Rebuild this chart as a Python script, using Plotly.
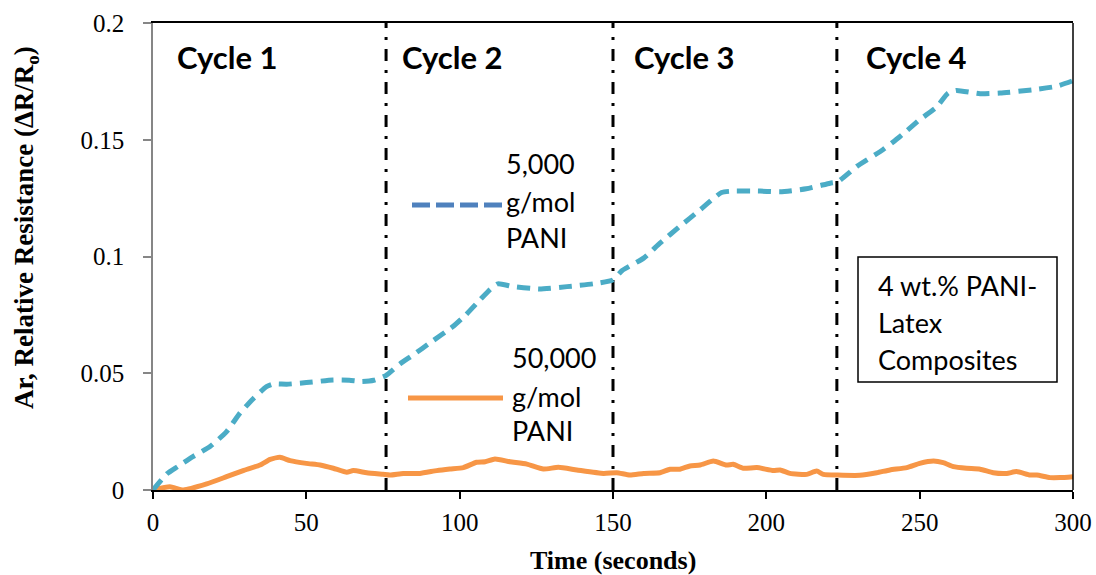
import plotly.graph_objects as go

# Time (s) and relative resistance for the two PANI molecular weights
time_5k = [0, 4.5, 8, 13, 18.6, 24, 28.4, 32.6, 37, 39.2,
           43.6, 50, 58.7, 64, 68, 72, 75.9, 80.5, 85, 90.3,
           97.8, 102, 106.6, 110, 112.5, 117.4, 126, 135, 143.6, 150,
           153, 160, 165.3, 171.8, 178.4, 185.4, 189, 198, 204.5, 213,
           220.8, 223.3, 229.5, 238, 243.6, 250, 255.5, 259.3, 262, 269.7,
           276.2, 287, 294.7, 300]
resist_5k = [0, 0.0069, 0.010, 0.0143, 0.0186, 0.025, 0.033, 0.039, 0.0443, 0.0454,
             0.0453, 0.046, 0.0471, 0.047, 0.0465, 0.047, 0.049, 0.054, 0.058, 0.063,
             0.070, 0.075, 0.0814, 0.086, 0.0883, 0.0871, 0.0861, 0.0871, 0.0883, 0.090,
             0.094, 0.0993, 0.1057, 0.1129, 0.120, 0.1274, 0.128, 0.128, 0.1277, 0.129,
             0.1314, 0.132, 0.1386, 0.1457, 0.1514, 0.1586, 0.164, 0.170, 0.1711, 0.1697,
             0.170, 0.1714, 0.1729, 0.1753]

time_50k = [0, 5.5, 9.9, 17.5, 24, 29.4, 34.9, 38.2, 41.4, 44.7,
            50, 54.5, 58.8, 63.2, 65.3, 69.7, 75, 77.3, 81.6, 87,
            92.5, 96.8, 101.2, 105.5, 108.3, 111.5, 116.4, 121.9, 127.3, 132.2,
            138.2, 146.9, 151.2, 155.5, 160, 165.3, 168.6, 171.8, 175.1, 178.4,
            182.7, 187, 189.2, 192.5, 196.9, 202.3, 204.5, 207.7, 213.2, 216.4,
            218.6, 223.3, 230.5, 236, 240.3, 245.8, 250, 254.5, 257.7, 261,
            265.3, 269.7, 274, 278.4, 281.6, 286, 288.2, 292.5, 295.8, 300]
resist_50k = [0, 0.0014, 0.0, 0.0026, 0.0057, 0.0083, 0.0107, 0.0131, 0.014, 0.0126,
              0.0114, 0.0107, 0.0093, 0.0076, 0.0083, 0.0074, 0.0067, 0.0064, 0.0071, 0.0071,
              0.0083, 0.009, 0.0096, 0.0119, 0.0121, 0.0133, 0.0121, 0.0111, 0.009, 0.0097,
              0.0086, 0.0071, 0.0074, 0.0064, 0.0071, 0.0074, 0.0089, 0.0089, 0.0103, 0.0107,
              0.0124, 0.0107, 0.011, 0.0093, 0.0096, 0.0083, 0.0086, 0.0071, 0.0067, 0.0081,
              0.0067, 0.0064, 0.0063, 0.0074, 0.0086, 0.0096, 0.0114, 0.0124, 0.0117, 0.01,
              0.0093, 0.0089, 0.0074, 0.0071, 0.0079, 0.0064, 0.0064, 0.0053, 0.0053, 0.0057]

cycle_bounds = [76, 150, 223]
cycle_labels = ["Cycle 1", "Cycle 2", "Cycle 3", "Cycle 4"]
x_ticks = [0, 50, 100, 150, 200, 250, 300]
y_ticks = [0, 0.05, 0.1, 0.15, 0.2]
y_tick_text = ["0", "0.05", "0.1", "0.15", "0.2"]

CYAN = "#4BACC6"
ORANGE = "#F79646"
KEY_BLUE = "#4F81BD"
SANS = "Lato"
SERIF = "Liberation Serif"

# Plot frame in pixels: x 153..1073, y 490 (bottom) .. 23 (top)
L, R, T, B = 153, 1073, 23, 490


def px(xp):
    return (xp - L) / float(R - L)


def py(yp):
    return (B - yp) / float(B - T)


fig = go.Figure()
fig.add_trace(go.Scatter(x=time_50k, y=resist_50k, mode="lines",
                         line=dict(color=ORANGE, width=5, shape="spline", smoothing=0.5),
                         showlegend=False))
fig.add_trace(go.Scatter(x=time_5k, y=resist_5k, mode="lines",
                         line=dict(color=CYAN, width=5, dash="13px,8px",
                                   shape="spline", smoothing=0.5),
                         showlegend=False))

# Cycle boundaries
for xb in cycle_bounds:
    fig.add_shape(type="line", xref="x", yref="paper", x0=xb, x1=xb, y0=0, y1=1,
                  line=dict(color="black", width=3, dash="12px,9px,3px,9px"), layer="below")

# Key line samples
fig.add_shape(type="line", xref="paper", yref="paper", x0=px(412), x1=px(502),
              y0=py(205), y1=py(205), line=dict(color=KEY_BLUE, width=5, dash="18px,6px"))
fig.add_shape(type="line", xref="paper", yref="paper", x0=px(408), x1=px(503),
              y0=py(398), y1=py(398), line=dict(color=ORANGE, width=5))
# Note box
fig.add_shape(type="rect", xref="paper", yref="paper", x0=px(858), x1=px(1057),
              y0=py(382), y1=py(257), line=dict(color="black", width=1.5))
# Right frame edge
fig.add_shape(type="line", xref="paper", yref="paper", x0=1, x1=1, y0=0, y1=1,
              line=dict(color="black", width=1.5))

for label, xl in zip(cycle_labels, [175, 400, 632, 864]):
    fig.add_annotation(text="<b>%s</b>" % label, x=px(xl), y=py(57),
                       xref="paper", yref="paper", xanchor="left", yanchor="middle",
                       showarrow=False, font=dict(family=SANS, size=31, color="black"))

# Key texts beside each line sample, and the note box text
for lines, xl, ys in [(["5,000", "g/mol", "PANI"], 504, [163, 201, 237]),
                      (["50,000", "g/mol", "PANI"], 510, [357, 396, 430]),
                      (["4 wt.% PANI-", "Latex", "Composites"], 876, [285, 322, 359])]:
    for t, yl in zip(lines, ys):
        fig.add_annotation(text=t, x=px(xl), y=py(yl), xref="paper", yref="paper",
                           xanchor="left", yanchor="middle", showarrow=False,
                           font=dict(family=SANS, size=27, color="black"))

fig.add_annotation(text="<b>Ar, Relative Resistance (ΔR/R<sub>o</sub>)</b>",
                   x=px(26), y=py(228), xref="paper", yref="paper",
                   xanchor="center", yanchor="middle", textangle=-90, showarrow=False,
                   font=dict(family=SERIF, size=27, color="black"))
fig.add_annotation(text="<b>Time (seconds)</b>", x=0.5, y=py(560),
                   xref="paper", yref="paper", xanchor="center", yanchor="middle",
                   showarrow=False, font=dict(family=SERIF, size=26, color="black"))

fig.update_layout(
    width=1096, height=575,
    margin=dict(l=L, r=1096 - R, t=T, b=575 - B),
    paper_bgcolor="white", plot_bgcolor="white",
    xaxis=dict(range=[0, 300], tickvals=x_ticks, ticks="outside", ticklen=7, tickwidth=1.5,
               tickcolor="black", showline=True, linecolor="black", linewidth=2, mirror=True,
               showgrid=False, zeroline=False, ticklabelstandoff=2, automargin=False,
               tickfont=dict(family=SERIF, size=25, color="black")),
    xaxis2=dict(range=[0, 300], matches="x", overlaying="x", anchor="y", side="bottom",
                tickvals=x_ticks, ticks="inside", ticklen=7, tickwidth=1.5, tickcolor="black",
                showticklabels=False, showline=False, showgrid=False, zeroline=False,
                automargin=False),
    yaxis=dict(range=[0, 0.2], tickvals=y_ticks, ticktext=y_tick_text, ticks="outside",
               ticklen=8, tickwidth=1.5, tickcolor="#868686", showline=True,
               linecolor="#868686", linewidth=1.5, showgrid=False, zeroline=False,
               ticklabelstandoff=14, automargin=False,
               tickfont=dict(family=SERIF, size=25, color="black")),
)

fig.write_html("out.html")
